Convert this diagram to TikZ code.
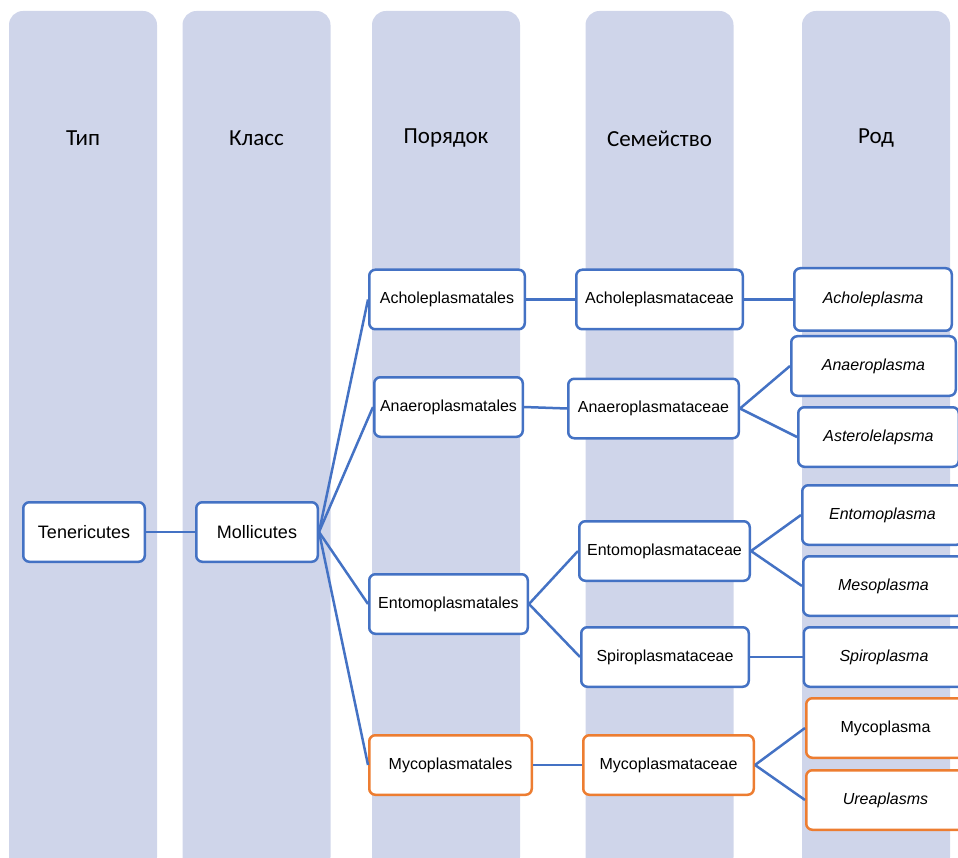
\documentclass[tikz,border=0pt]{standalone}
\usepackage{fontspec}
\setmainfont{Liberation Sans}
\newfontfamily\hdrfont{Carlito}
\usepackage{xcolor}
\usetikzlibrary{positioning}
\definecolor{lav}{HTML}{CFD5EA}
\definecolor{linkblue}{HTML}{4472C4}
\definecolor{mycorange}{HTML}{ED7D31}

\begin{document}
\begin{tikzpicture}[
    x=1pt, y=-1pt,
    font=\fontsize{16}{19}\selectfont,
    col/.style={fill=lav, rounded corners=14pt, minimum width=148pt, minimum height=860pt, inner sep=0pt},
    hdr/.style={font=\hdrfont\fontsize{23}{28}\selectfont},
    taxon/.style={draw=linkblue, line width=2.5pt, fill=white, rounded corners=6pt, inner sep=0pt, minimum height=59.5pt},
    myco/.style={taxon, draw=mycorange},
    genus/.style={font=\fontsize{16}{19}\selectfont\itshape},
    line/.style={draw=linkblue, line width=2.5pt}
]
\useasboundingbox (0,0) rectangle (958,858);

% rank columns
\node[col] (c1) at (83,441) {};
\node[col] (c2) at (256.5,441) {};
\node[col] (c3) at (446,441) {};
\node[col] (c4) at (659.5,441) {};
\node[col] (c5) at (876,441) {};

\node[hdr] (h1) at (83,138.5) {Тип};
\node[hdr] (h2) at (256.5,138.5) {Класс};
\node[hdr] (h3) at (446,138.5) {Порядок};
\node[hdr] (h4) at (659.5,138.5) {Семейство};
\node[hdr] (h5) at (876,138.5) {Род};

% phylum and class
\node[taxon, minimum width=121.5pt, font=\fontsize{18}{21}\selectfont] (ten) at (84,532) {Tenericutes};
\node[taxon, minimum width=121.5pt, font=\fontsize{18}{21}\selectfont] (mol) at (257,532) {Mollicutes};

% orders
\node[taxon, minimum width=155.5pt] (o1) at (447,299.5) {Acholeplasmatales};
\node[taxon, minimum width=148.5pt] (o2) at (448.5,407) {Anaeroplasmatales};
\node[taxon, minimum width=158.5pt] (o3) at (448.5,604) {Entomoplasmatales};
\node[myco, minimum width=162.5pt] (o4) at (450.5,765) {Mycoplasmatales};

% families
\node[taxon, minimum width=166.5pt] (f1) at (659.5,299.5) {Acholeplasmataceae};
\node[taxon, minimum width=170.5pt] (f2) at (653.5,408.5) {Anaeroplasmataceae};
\node[taxon, minimum width=170.5pt] (f3) at (664.5,551) {Entomoplasmataceae};
\node[taxon, minimum width=167.5pt] (f4) at (665,657) {Spiroplasmataceae};
\node[myco, minimum width=170.5pt] (f5) at (668.5,765) {Mycoplasmataceae};

% genera
\node[taxon, genus, minimum width=157.5pt, minimum height=62.5pt] (g1) at (873,299.5) {Acholeplasma};
\node[taxon, genus, minimum width=164.5pt] (g2) at (873.5,366) {Anaeroplasma};
\node[taxon, genus, minimum width=160.5pt] (g3) at (878.5,437) {Asterolelapsma};
\node[taxon, genus, minimum width=160.5pt] (g4) at (882.5,515) {Entomoplasma};
\node[taxon, genus, minimum width=160.5pt] (g5) at (883.5,586) {Mesoplasma};
\node[taxon, genus, minimum width=160.5pt] (g6) at (884,657) {Spiroplasma};
\node[myco, minimum width=158.5pt] (g7) at (885.5,728) {Mycoplasma};
\node[myco, genus, minimum width=158.5pt] (g8) at (885.5,800) {Ureaplasms};

\draw[line] (ten) -- (mol);
\draw[line] (mol.east) -- (o1.west);
\draw[line] (mol.east) -- (o2.west);
\draw[line] (mol.east) -- (o3.west);
\draw[line] (mol.east) -- (o4.west);

\draw[line] (o1.east) -- (f1.west);
\draw[line] (o2.east) -- (f2.west);
\draw[line] (o3.east) -- (f3.west);
\draw[line] (o3.east) -- (f4.west);
\draw[line] (o4.east) -- (f5.west);

\draw[line] (f1.east) -- (g1.west);
\draw[line] (f2.east) -- (g2.west);
\draw[line] (f2.east) -- (g3.west);
\draw[line] (f3.east) -- (g4.west);
\draw[line] (f3.east) -- (g5.west);
\draw[line] (f4.east) -- (g6.west);
\draw[line] (f5.east) -- (g7.west);
\draw[line] (f5.east) -- (g8.west);
\end{tikzpicture}
\end{document}
